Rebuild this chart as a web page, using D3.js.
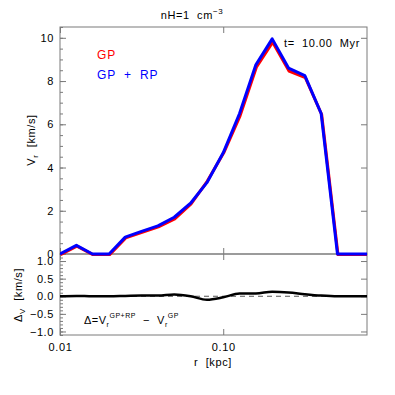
<!DOCTYPE html>
<html lang="en">
<head>
  <meta charset="UTF-8">
  <title>vr-profile</title>
  <script src="https://d3js.org/d3.v7.min.js"></script>
  <style>
    body { margin: 0; background: #fff; }
    text { font-family: "Liberation Sans", Arial, sans-serif; fill: #000; white-space: pre; }
  </style>
</head>
<body>
<script>
  const WIDTH = 395;
  const HEIGHT = 395;

  // radii of the shells [kpc]
  const radius = [0.0100, 0.0126, 0.0158, 0.0200, 0.0251, 0.0316, 0.0398, 0.0501, 0.0631, 0.0794,
    0.1000, 0.1259, 0.1585, 0.1995, 0.2512, 0.3162, 0.3981, 0.5012, 0.6310, 0.7943];
  // V_r [km/s]
  const vrGP = [0, 0.39, 0, 0, 0.77, 1.03, 1.28, 1.65, 2.35, 3.40,
    4.71, 6.42, 8.67, 9.82, 8.49, 8.19, 6.48, 0, 0, 0];
  const vrGPRP = [0, 0.40, 0, 0, 0.78, 1.05, 1.30, 1.70, 2.35, 3.30,
    4.68, 6.50, 8.75, 9.95, 8.60, 8.25, 6.50, 0, 0, 0];
  // difference V_r(GP+RP) - V_r(GP)
  const deltaV = [0, 0.01, 0, 0, 0.01, 0.02, 0.02, 0.05, 0.0, -0.10,
    -0.03, 0.08, 0.08, 0.13, 0.11, 0.06, 0.02, 0, 0, 0];

  const xTickLabels = [0.01, 0.1];
  const yTicksTop = [0, 2, 4, 6, 8, 10];
  const yTicksBottom = [-1, -0.5, 0, 0.5, 1];

  const left = 60, right = 367;
  const topY = 27, midY = 254, botY = 335;
  const axisColor = '#7a7a7a';

  const x = d3.scaleLog().domain([0.01, 0.76]).range([left, right]);
  const yTop = d3.scaleLinear().domain([0, 10.5]).range([midY, topY]);
  const yBot = d3.scaleLinear().domain([-1.1, 1.2]).range([botY, midY]);

  const svg = d3.select('body').append('svg')
    .attr('width', WIDTH)
    .attr('height', HEIGHT);

  const defs = svg.append('defs');
  defs.append('clipPath').attr('id', 'clipTop').append('rect')
    .attr('x', left).attr('y', topY - 2).attr('width', right - left).attr('height', midY - topY + 4);
  defs.append('clipPath').attr('id', 'clipBot').append('rect')
    .attr('x', left).attr('y', midY).attr('width', right - left).attr('height', botY - midY);

  // minor tick values for the log axis
  const xMinor = x.ticks().filter(d => xTickLabels.indexOf(+d.toFixed(3)) < 0);

  // dir > 0 : ticks pointing up, dir < 0 : pointing down
  function xTicks(yPos, dir) {
    const mk = () => (dir > 0 ? d3.axisTop(x) : d3.axisBottom(x));
    const g = svg.append('g').attr('transform', `translate(0,${yPos})`);
    g.call(mk().tickValues(xMinor).tickSize(3).tickFormat(''));
    g.call(mk().tickValues(xTickLabels).tickSize(6).tickFormat(''));
    g.selectAll('.domain').remove();
    g.selectAll('line').attr('stroke', axisColor);
  }

  function yAxis(scale, major, minor, fmt, x0, x1) {
    const gl = svg.append('g').attr('transform', `translate(${x0},0)`);
    gl.call(d3.axisRight(scale).tickValues(minor).tickSize(3).tickFormat(''));
    gl.call(g => g.select('.domain').remove());
    const gl2 = svg.append('g').attr('transform', `translate(${x0},0)`);
    gl2.call(d3.axisLeft(scale).tickValues(major).tickSize(-6).tickPadding(6).tickFormat(fmt));
    gl2.call(g => g.select('.domain').remove());
    const gr = svg.append('g').attr('transform', `translate(${x1},0)`);
    gr.call(d3.axisLeft(scale).tickValues(minor).tickSize(3).tickFormat(''));
    gr.call(d3.axisLeft(scale).tickValues(major).tickSize(6).tickFormat(''));
    gr.call(g => g.selectAll('.domain').remove());
    [gl, gl2, gr].forEach(s => {
      s.selectAll('line').attr('stroke', axisColor);
      s.selectAll('text').attr('font-size', 11).style('letter-spacing', '0.6px');
    });
  }

  // frames
  [[topY, midY], [midY, botY]].forEach(([a, b]) => {
    svg.append('rect').attr('x', left).attr('y', a).attr('width', right - left).attr('height', b - a)
      .attr('fill', 'none').attr('stroke', axisColor).attr('stroke-width', 1);
  });

  xTicks(topY, -1);
  xTicks(midY, 1);
  xTicks(midY, -1);
  xTicks(botY, 1);

  // x labels under the lower panel
  const gx = svg.append('g').attr('transform', `translate(0,${botY})`);
  gx.call(d3.axisBottom(x).tickValues(xTickLabels).tickSize(0).tickPadding(8).tickFormat(d3.format('.2f')));
  gx.select('.domain').remove();
  gx.selectAll('text').attr('font-size', 11).style('letter-spacing', '0.6px');

  yAxis(yTop, yTicksTop, d3.range(0, 10.6, 0.5), d3.format('d'), left, right);
  yAxis(yBot, yTicksBottom, d3.range(-1.1, 1.21, 0.1).map(d => +d.toFixed(2)),
    d => (d < 0 ? '\u2212' : '') + Math.abs(d).toFixed(1), left, right);

  // upper panel curves
  const lineTop = (vals) => d3.line()
    .x((d, i) => x(radius[i]))
    .y(d => yTop(d))(vals);

  const plotTop = svg.append('g').attr('clip-path', 'url(#clipTop)');
  plotTop.append('path').attr('d', lineTop(vrGP))
    .attr('fill', 'none').attr('stroke', '#ff0000').attr('stroke-width', 3)
    .attr('stroke-linejoin', 'round').attr('transform', 'translate(0.5,0.6)');
  plotTop.append('path').attr('d', lineTop(vrGPRP))
    .attr('fill', 'none').attr('stroke', '#0000ff').attr('stroke-width', 3)
    .attr('stroke-linejoin', 'round');

  // lower panel
  const plotBot = svg.append('g').attr('clip-path', 'url(#clipBot)');
  plotBot.append('line')
    .attr('x1', left).attr('x2', right).attr('y1', yBot(0)).attr('y2', yBot(0))
    .attr('stroke', '#555').attr('stroke-width', 1).attr('stroke-dasharray', '5,4');
  plotBot.append('path')
    .attr('d', d3.line().x((d, i) => x(radius[i])).y(d => yBot(d)).curve(d3.curveMonotoneX)(deltaV))
    .attr('fill', 'none').attr('stroke', '#000').attr('stroke-width', 2.5);

  // texts
  const title = svg.append('text').attr('x', 192).attr('y', 19).attr('text-anchor', 'middle')
    .attr('font-size', 11).style('letter-spacing', '0.6px');
  title.append('tspan').text('nH=1  cm');
  title.append('tspan').attr('dy', -5).attr('font-size', 8).text('\u22123');

  svg.append('text').attr('x', 97).attr('y', 59).attr('font-size', 12)
    .style('letter-spacing', '0.8px').style('fill', '#ff0000').text('GP');
  svg.append('text').attr('x', 97).attr('y', 79).attr('font-size', 12)
    .style('letter-spacing', '0.8px').style('fill', '#0000ff').text('GP  +  RP');
  svg.append('text').attr('x', 284).attr('y', 47).attr('font-size', 11)
    .style('letter-spacing', '0.6px').text('t=  10.00  Myr');

  const vy = svg.append('text').attr('transform', 'translate(35,140) rotate(-90)')
    .attr('text-anchor', 'middle').attr('font-size', 11).style('letter-spacing', '0.6px');
  vy.append('tspan').text('V');
  vy.append('tspan').attr('dy', 3).attr('font-size', 8).text('r');
  vy.append('tspan').attr('dy', -3).text('  [km/s]');

  const dy = svg.append('text').attr('transform', 'translate(22,295) rotate(-90)')
    .attr('text-anchor', 'middle').attr('font-size', 11).style('letter-spacing', '0.6px');
  dy.append('tspan').text('\u0394');
  dy.append('tspan').attr('dy', 3).attr('font-size', 8).text('V');
  dy.append('tspan').attr('dy', -3).text('  [km/s]');

  const eq = svg.append('text').attr('x', 84).attr('y', 324).attr('font-size', 11)
    .style('letter-spacing', '0.5px');
  eq.append('tspan').text('\u0394=V');
  eq.append('tspan').attr('dy', 3).attr('font-size', 7).text('r');
  eq.append('tspan').attr('dy', -9).attr('font-size', 7).text('GP+RP');
  eq.append('tspan').attr('dy', 6).text('  \u2212  V');
  eq.append('tspan').attr('dy', 3).attr('font-size', 7).text('r');
  eq.append('tspan').attr('dy', -9).attr('font-size', 7).text('GP');

  svg.append('text').attr('x', 213).attr('y', 366).attr('text-anchor', 'middle')
    .attr('font-size', 11).style('letter-spacing', '0.6px').text('r  [kpc]');
</script>
</body>
</html>
